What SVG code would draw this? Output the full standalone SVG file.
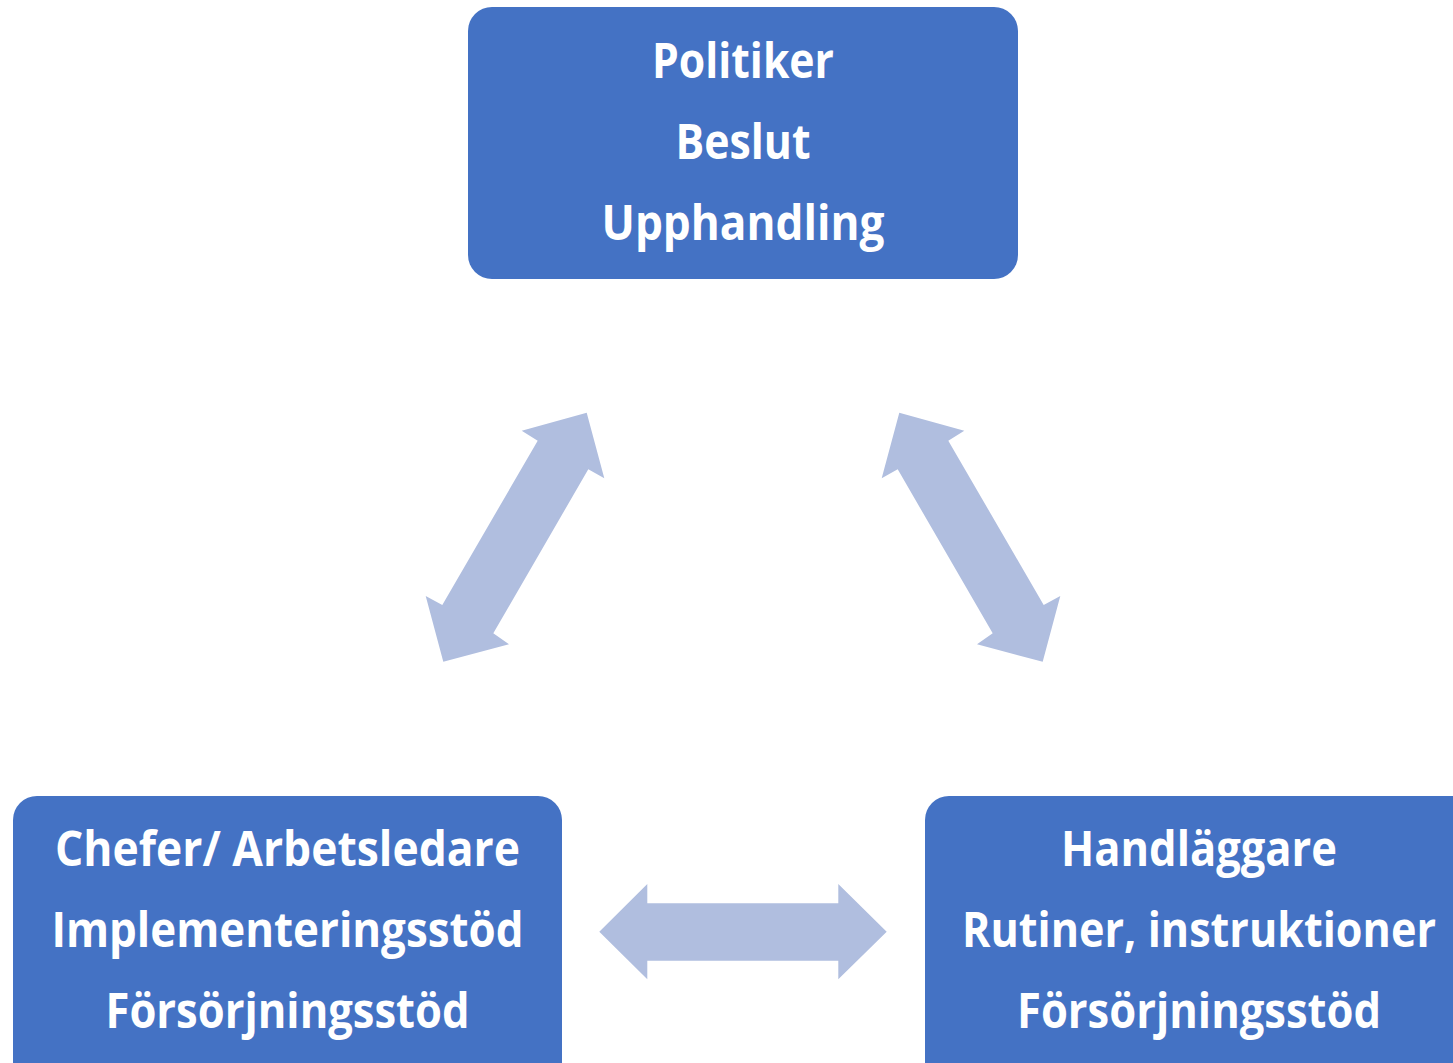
<svg xmlns="http://www.w3.org/2000/svg" width="1453" height="1063" viewBox="0 0 1453 1063">
<style>
.box{fill:#4472C4}
.arr{fill:#B0BEDF}
.t{fill:#FFFFFF;font-family:"Open Sans","Liberation Sans",sans-serif;font-weight:700;font-size:49px;text-anchor:middle}
</style>
<rect width="1453" height="1063" fill="#FFFFFF"/>
<g id="connectors">
<polygon class="arr" points="586.7,412.7 604.3,478.3 588.3,469.3 493.3,633.3 509,644.3 443.3,661.7 425.7,596 442.3,605 537.7,440.7 521.7,430.7"/>
<polygon class="arr" points="899.3,412.7 881.7,478.3 897.7,469.3 992.7,633.3 977,644.3 1042.7,661.7 1060.3,596 1043.7,605 948.3,440.7 964.3,430.7"/>
<polygon class="arr" points="599.3,931.7 647.3,884 647.3,903.3 838.3,903.3 838.3,884 886.7,931.7 838.3,979.3 838.3,960.7 647.3,960.7 647.3,979.3"/>
</g>
<g id="node-top">
<rect class="box" x="468" y="7" width="550" height="272" rx="24"/>
<text class="t" x="743" y="78" textLength="182" lengthAdjust="spacingAndGlyphs">Politiker</text>
<text class="t" x="743" y="159" textLength="135" lengthAdjust="spacingAndGlyphs">Beslut</text>
<text class="t" x="743" y="240" textLength="283" lengthAdjust="spacingAndGlyphs">Upphandling</text>
</g>
<g id="node-left">
<rect class="box" x="13" y="796" width="549" height="300" rx="24"/>
<text class="t" x="287.5" y="866" textLength="465" lengthAdjust="spacingAndGlyphs">Chefer/ Arbetsledare</text>
<text class="t" x="287.5" y="947" textLength="472" lengthAdjust="spacingAndGlyphs">Implementeringsstöd</text>
<text class="t" x="287.5" y="1028" textLength="364" lengthAdjust="spacingAndGlyphs">Försörjningsstöd</text>
</g>
<g id="node-right">
<rect class="box" x="925" y="796" width="560" height="300" rx="24"/>
<text class="t" x="1199" y="866" textLength="276" lengthAdjust="spacingAndGlyphs">Handläggare</text>
<text class="t" x="1199" y="947" textLength="474" lengthAdjust="spacingAndGlyphs">Rutiner, instruktioner</text>
<text class="t" x="1199" y="1028" textLength="364" lengthAdjust="spacingAndGlyphs">Försörjningsstöd</text>
</g>
</svg>
